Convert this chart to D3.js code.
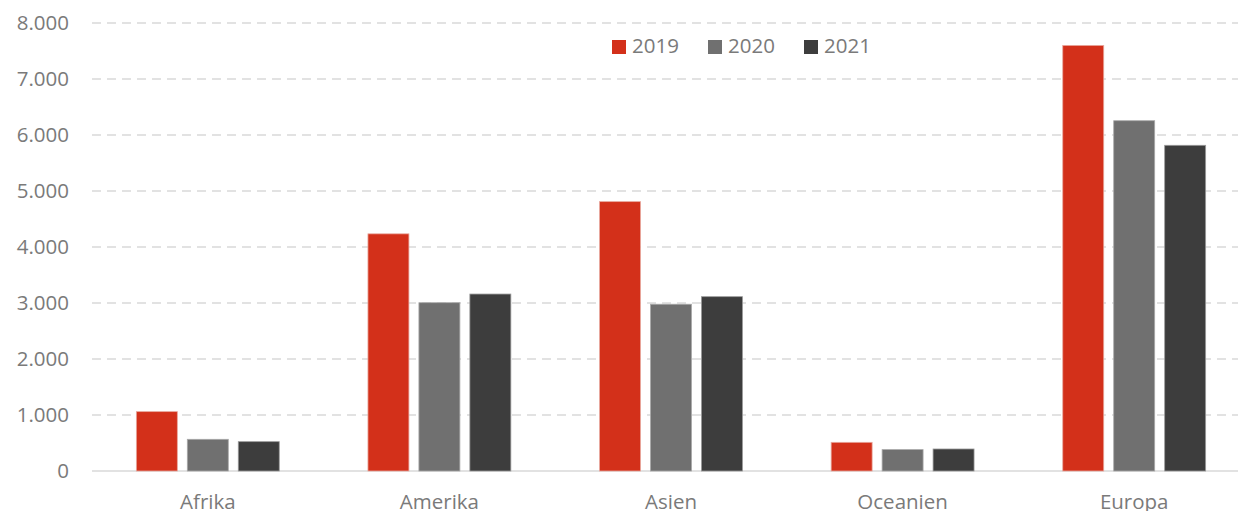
<!DOCTYPE html>
<html><head><meta charset="utf-8">
<script src="https://cdn.jsdelivr.net/npm/d3@7/dist/d3.min.js"></script>
<style>
html,body{margin:0;padding:0;background:#fff;overflow:hidden}
svg{display:block}
text{font-family:"Open Sans",sans-serif}
</style></head>
<body>
<svg id="chart" width="1238" height="511"></svg>
<script>
const categories = ["Afrika", "Amerika", "Asien", "Oceanien", "Europa"];
const series = ["2019", "2020", "2021"];
const values2019 = [1060, 4235, 4810, 512, 7600];
const values2020 = [566, 3005, 2978, 382, 6255];
const values2021 = [524, 3160, 3113, 393, 5816];
const yTicks = [0, 1000, 2000, 3000, 4000, 5000, 6000, 7000, 8000];
const colors = ["#D3301A", "#707070", "#3D3D3D"];
const strokes = ["#e8a89e", "#a8a8a8", "#9a9a9a"];

const seriesValues = [values2019, values2020, values2021];
const svg = d3.select("#chart");
const textColor = "#7a7a7a";
const fontSize = "20.5px";

const mLeft = 92, mRight = 1250, mTop = 23, mBottom = 471;
const y = d3.scaleLinear().domain([0, 8000]).range([mBottom, mTop]);
const x0 = d3.scaleBand().domain(categories).range([mLeft, mRight]).paddingInner(0.383).paddingOuter(0.1915);
const x1 = d3.scaleBand().domain(series).range([0, x0.bandwidth()]).paddingInner(0.196);

const loc = d3.formatLocale({decimal: ",", thousands: ".", grouping: [3], currency: ["", "€"]});
const fmt = loc.format(",");

// gridlines
svg.append("g").selectAll("line").data(yTicks.filter(d => d > 0)).join("line")
  .attr("x1", mLeft).attr("x2", 1238)
  .attr("y1", d => y(d)).attr("y2", d => y(d))
  .attr("stroke", "#d9d9d9").attr("stroke-width", 1.5).attr("stroke-dasharray", "9,6");

// baseline
svg.append("line").attr("x1", mLeft).attr("x2", 1238).attr("y1", y(0)).attr("y2", y(0))
  .attr("stroke", "#d9d9d9").attr("stroke-width", 1.5);

// y axis
const yAxis = d3.axisLeft(y).tickValues(yTicks).tickFormat(fmt).tickSize(0).tickPadding(0);
const gy = svg.append("g").attr("transform", "translate(69,0)").call(yAxis);
gy.select(".domain").remove();
gy.selectAll("text").attr("fill", textColor).style("font-size", fontSize).style("font-family", "'Open Sans',sans-serif");

// bars
const groups = svg.append("g").selectAll("g").data(categories).join("g")
  .attr("transform", d => `translate(${x0(d)},0)`);
groups.selectAll("rect").data((c, i) => series.map((s, j) => ({s, j, v: seriesValues[j][i]}))).join("rect")
  .attr("x", d => x1(d.s)).attr("width", x1.bandwidth())
  .attr("y", d => y(d.v)).attr("height", d => y(0) - y(d.v))
  .attr("fill", d => colors[d.j]).attr("stroke", d => strokes[d.j]).attr("stroke-width", 0.8);

// x axis labels
const xAxis = d3.axisBottom(x0).tickSize(0).tickPadding(0);
const gx = svg.append("g").attr("transform", `translate(0,${mBottom})`).call(xAxis);
gx.select(".domain").remove();
gx.selectAll("text").attr("fill", textColor).style("font-size", fontSize)
  .style("font-family", "'Open Sans',sans-serif").attr("dy", null).attr("y", 38);

// legend
const legend = svg.append("g").selectAll("g").data(series).join("g")
  .attr("transform", (d, i) => `translate(${612 + i * 96},40)`);
legend.append("rect").attr("width", 14).attr("height", 14).attr("fill", (d, i) => colors[i]);
legend.append("text").attr("x", 20).attr("y", 13).text(d => d)
  .attr("fill", textColor).style("font-size", fontSize);
</script>
</body></html>
